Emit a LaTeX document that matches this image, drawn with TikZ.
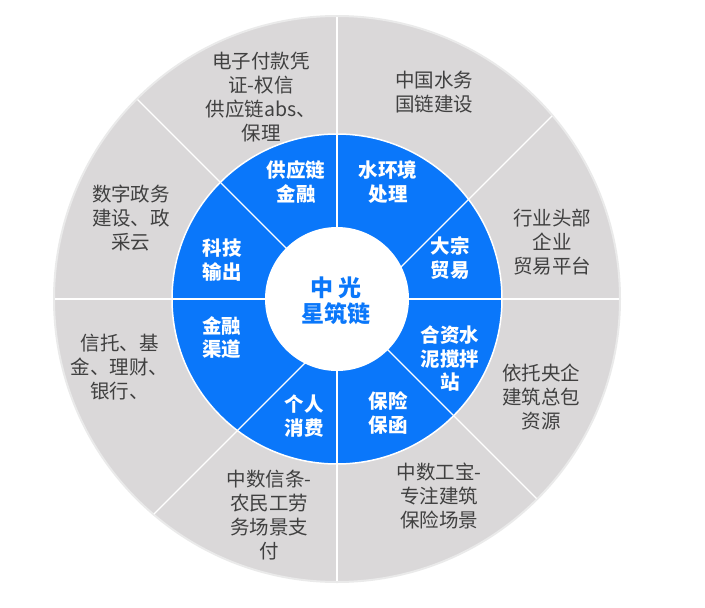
\documentclass[tikz,border=0pt]{standalone}
\usepackage{fontspec}
\newfontfamily\cjk{Noto Sans CJK SC}
\usepackage{xcolor}
\definecolor{ringblue}{HTML}{0A77FA}
\definecolor{ringgrey}{HTML}{DAD8D9}
\definecolor{ringedge}{HTML}{EAEAEA}
\definecolor{textgrey}{HTML}{404040}

\begin{document}
\begin{tikzpicture}[x = 1pt, y = -1pt,
	outer/.style = {text = textgrey, font = \cjk\fontsize{19.5}{24}\selectfont, align = center, inner sep = 0pt},
	inner/.style = {text = white, font = \cjk\bfseries\fontsize{19.5}{23.5}\selectfont, align = center, inner sep = 0pt},
	hub/.style = {text = ringblue, font = \cjk\bfseries\fontsize{23}{26}\selectfont, align = center, inner sep = 0pt},
	spoke/.style = {white, line width = 1.2pt}]
	\useasboundingbox (0, 0) rectangle (705, 608);
	\coordinate (c) at (337, 299);
	\draw[fill = ringgrey, draw = ringedge, line width = 2pt] (c) circle[radius = 283pt];
	\draw[fill = ringblue, draw = white, line width = 1.5pt] (c) circle[radius = 165pt];
	\draw[spoke] (337, 17) -- (337, 581);
	\draw[spoke] (55, 299) -- (619, 299);
	\draw[spoke] (137.5, 99.5) -- (536.5, 498.5);
	\draw[spoke] (552, 116) -- (154, 514);
	\fill[white] (c) circle[radius = 72pt];
	\node[hub] (hub) at (336, 301) {中 光\\星筑链};
	\node[inner] (supply) at (296, 182) {供应链\\金融};
	\node[inner] (water) at (388, 182) {水环境\\处理};
	\node[inner] (bulk) at (450, 258) {大宗\\贸易};
	\node[inner] (cement) at (450, 359) {合资水\\泥搅拌\\站};
	\node[inner] (insure) at (388, 413) {保险\\保函};
	\node[inner] (consume) at (304, 416) {个人\\消费};
	\node[inner] (channel) at (221.5, 337.5) {金融\\渠道};
	\node[inner] (tech) at (222, 260) {科技\\输出};
	\node[outer] (voucher) at (261, 97) {电子付款凭\\证-权信\\供应链abs、\\保理};
	\node[outer] (cnwater) at (434, 92) {中国水务\\国链建设};
	\node[outer] (leader) at (552, 242) {行业头部\\企业\\贸易平台};
	\node[outer] (soe) at (541, 397) {依托央企\\建筑总包\\资源};
	\node[outer] (gongbao) at (439, 496) {中数工宝-\\专注建筑\\保险场景};
	\node[outer] (xintiao) at (269, 515) {中数信条-\\农民工劳\\务场景支\\付};
	\node[outer] (trust) at (119.5, 367) {信托、基\\金、理财、\\银行、};
	\node[outer] (govern) at (131, 218) {数字政务\\建设、政\\采云};
\end{tikzpicture}
\end{document}
